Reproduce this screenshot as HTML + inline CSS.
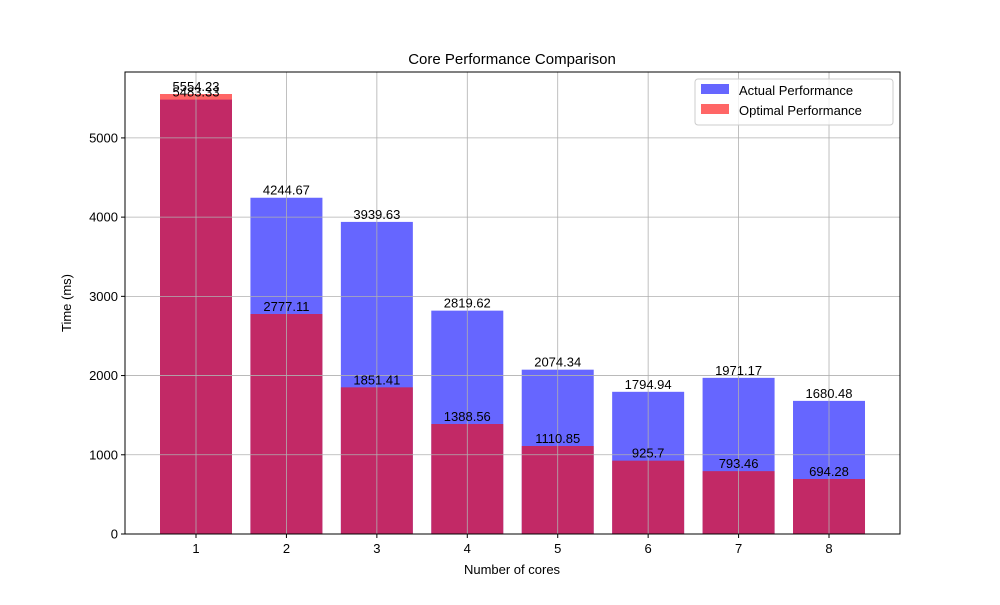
<!DOCTYPE html>
<html><head><meta charset="utf-8"><style>body{margin:0;background:#fff}svg{font-family:"Liberation Sans","DejaVu Sans",sans-serif}</style></head>
<body>
<svg id="chart" width="1000" height="600" xmlns="http://www.w3.org/2000/svg"></svg>
<script>
const categories = [1,2,3,4,5,6,7,8];
const actual = [5483.33,4244.67,3939.63,2819.62,2074.34,1794.94,1971.17,1680.48];
const optimal = [5554.23,2777.11,1851.41,1388.56,1110.85,925.7,793.46,694.28];
const yTicks = [0,1000,2000,3000,4000,5000];
const L=125,R=900,T=72,B=534,yMax=5831.94;
const y=v=>B-(v/yMax)*(B-T);
const x=c=>196+(c-1)*90.43;
const bw=72;
const svg=document.getElementById('chart');
const NS='http://www.w3.org/2000/svg';
function mk(t,a,p){const e=document.createElementNS(NS,t);for(const k in a)e.setAttribute(k,a[k]);(p||svg).appendChild(e);return e;}
let e;
e=mk('text',{x:512,y:64,'text-anchor':'middle','font-size':15});e.textContent='Core Performance Comparison';


const gA=mk('g',{});


categories.forEach((c,i)=>{
 e=mk('rect',{x:x(c)-bw/2,y:y(actual[i]),width:bw,height:B-y(actual[i]),fill:'rgba(0,0,255,0.6)'},gA);
 
 
});
const gO=mk('g',{});


categories.forEach((c,i)=>{
 e=mk('rect',{x:x(c)-bw/2,y:y(optimal[i]),width:bw,height:B-y(optimal[i]),fill:'rgba(255,0,0,0.6)'},gO);
 
 
});
yTicks.forEach(t=>{
 e=mk('line',{x1:L,x2:R,y1:y(t),y2:y(t),stroke:'#b0b0b0','stroke-width':0.8});
 
 
 e=mk('line',{x1:L-4,x2:L,y1:y(t),y2:y(t),stroke:'#000'});
 e=mk('text',{x:L-7,y:y(t)+4.5,'text-anchor':'end','font-size':13});e.textContent=t;
 
 
});
categories.forEach(c=>{
 e=mk('line',{x1:x(c),x2:x(c),y1:T,y2:B,stroke:'#b0b0b0','stroke-width':0.8});
 
 
 mk('line',{x1:x(c),x2:x(c),y1:B,y2:B+4,stroke:'#000'});
 e=mk('text',{x:x(c),y:B+19,'text-anchor':'middle','font-size':13});e.textContent=c;
 
 
});
categories.forEach((c,i)=>{
 e=mk('text',{x:x(c),y:y(actual[i])-3,'text-anchor':'middle','font-size':13});e.textContent=actual[i];
 
 
 e=mk('text',{x:x(c),y:y(optimal[i])-3,'text-anchor':'middle','font-size':13});e.textContent=optimal[i];
 
 
});
e=mk('rect',{x:L,y:T,width:R-L,height:B-T,fill:'none',stroke:'#000','stroke-width':1});


e=mk('text',{x:512,y:574,'text-anchor':'middle','font-size':13});e.textContent='Number of cores';


e=mk('text',{x:71,y:303,'text-anchor':'middle','font-size':13,transform:'rotate(-90 71 303)'});e.textContent='Time (ms)';


const lg=mk('g',{});


mk('rect',{x:695,y:79,width:198,height:46,rx:3,fill:'rgba(255,255,255,0.8)',stroke:'#ccc'},lg);
mk('rect',{x:701,y:84,width:28,height:10,fill:'rgba(0,0,255,0.6)'},lg);
e=mk('text',{x:739,y:95,'font-size':13},lg);e.textContent='Actual Performance';


mk('rect',{x:701,y:104,width:28,height:10,fill:'rgba(255,0,0,0.6)'},lg);
e=mk('text',{x:739,y:115,'font-size':13},lg);e.textContent='Optimal Performance';


</script>
</body></html>
